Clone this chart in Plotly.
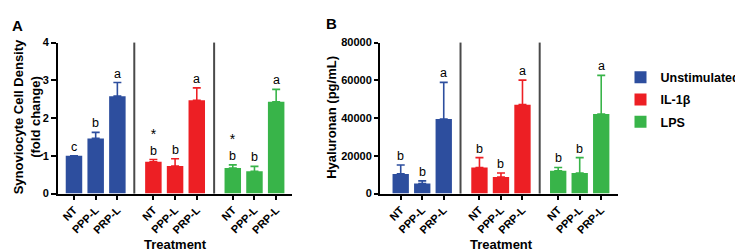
import plotly.graph_objects as go

# ---------------- data ----------------
groups = ["Unstimulated", "IL-1β", "LPS"]
tick_labels = ["NT", "PPP-L", "PRP-L"]
positions = [[0, 1, 2], [3.66, 4.66, 5.66], [7.32, 8.32, 9.32]]
separators = [2.78, 6.46]

density_mean = [[1.00, 1.46, 2.58], [0.84, 0.73, 2.47], [0.675, 0.59, 2.43]]
density_err = [[0.0, 0.16, 0.36], [0.06, 0.19, 0.33], [0.085, 0.13, 0.33]]
density_letters = [["c", "b", "a"], ["b", "b", "a"], ["b", "b", "a"]]
density_star = [[False, False, False], [True, False, False], [True, False, False]]

ha_mean = [[10400, 5350, 39500], [13800, 8700, 47100], [12100, 10900, 42100]]
ha_err = [[4750, 1350, 19400], [5200, 2200, 13000], [1700, 8100, 20500]]
ha_letters = [["b", "b", "a"], ["b", "b", "a"], ["b", "b", "a"]]

colors = ["#2D4E9E", "#ED1F24", "#38B449"]

FONT = "Arial, Liberation Sans, sans-serif"
W, H = 743, 252

def px(xp):
    return xp / W

def py(yp):
    return (H - yp) / H

fig = go.Figure()

annotations = []
shapes = []

for panel, (means, errs, letters, xa, ya) in enumerate([
        (density_mean, density_err, density_letters, "x", "y"),
        (ha_mean, ha_err, ha_letters, "x2", "y2")]):
    for g in range(3):
        fig.add_trace(go.Bar(
            x=positions[g], y=means[g], width=0.76,
            name=groups[g], legendgroup=groups[g],
            showlegend=(panel == 0),
            marker=dict(color=colors[g], line=dict(width=0)),
            error_y=dict(type="data", array=errs[g], arrayminus=[0, 0, 0],
                         symmetric=False, color=colors[g], thickness=1.6, width=4),
            xaxis=xa, yaxis=ya,
        ))
        for i in range(3):
            top = means[g][i] + errs[g][i]
            label = letters[g][i]
            if panel == 0 and density_star[g][i]:
                label = "<span style='font-size:14px'>*</span><br>" + label
            annotations.append(dict(
                x=positions[g][i], y=top, xref=xa, yref=ya, text=label,
                showarrow=False, yanchor="bottom", xanchor="center", yshift=0,
                font=dict(family=FONT, size=12.5, color="black")))
    for s in separators:
        shapes.append(dict(type="line", xref=xa, yref=ya + " domain", x0=s, x1=s,
                           y0=0, y1=1, line=dict(color="#4a4a4a", width=2)))

all_pos = [p for grp in positions for p in grp]
all_ticks = tick_labels * 3

axis_common = dict(showline=True, linecolor="black", linewidth=2, ticks="outside",
                   tickcolor="black", tickwidth=1.5, showgrid=False, zeroline=False)
ytickfont = dict(family=FONT, size=11, color="black", weight="bold")
xtickfont = dict(family=FONT, size=11, color="black", weight="bold")

y_dom = [py(188.5), py(30)]

fig.update_layout(
    width=W, height=H,
    margin=dict(l=0, r=0, t=0, b=0),
    plot_bgcolor="white", paper_bgcolor="white",
    barmode="overlay",
    font=dict(family=FONT, color="black"),
    xaxis=dict(domain=[px(50), px(284)], range=[-0.737, 10.05], tickvals=all_pos,
               ticktext=all_ticks, tickangle=-45, ticklen=4, tickfont=xtickfont,
               anchor="y", **axis_common),
    yaxis=dict(domain=y_dom, range=[0, 4], tickvals=[0, 1, 2, 3, 4], ticklen=5,
               tickfont=ytickfont, anchor="x", **axis_common),
    xaxis2=dict(domain=[px(372), px(610)], range=[-0.963, 10.1], tickvals=all_pos,
                ticktext=all_ticks, tickangle=-45, ticklen=4, tickfont=xtickfont,
                anchor="y2", **axis_common),
    yaxis2=dict(domain=y_dom, range=[0, 80000], tickvals=[0, 20000, 40000, 60000, 80000],
                tickformat="d", ticklen=4, tickfont=ytickfont, anchor="x2", **axis_common),
    legend=dict(x=px(612.5), y=py(51), xanchor="left", yanchor="top",
                font=dict(family=FONT, size=12.5, color="black", weight="bold"),
                traceorder="grouped", tracegroupgap=3, bgcolor="rgba(0,0,0,0)"),
    shapes=shapes,
)

# axis titles and panel labels
annotations += [
    dict(x=px(19), y=py(108.5), xref="paper", yref="paper",
         text="Synoviocyte Cell Density<br>(fold change)", textangle=-90,
         showarrow=False, xanchor="center", yanchor="middle",
         font=dict(family=FONT, size=13, color="black", weight="bold")),
    dict(x=px(324), y=py(109), xref="paper", yref="paper",
         text="Hyaluronan (pg/mL)", textangle=-90,
         showarrow=False, xanchor="center", yanchor="middle",
         font=dict(family=FONT, size=13, color="black", weight="bold")),
    dict(x=px(167), y=py(242), xref="paper", yref="paper", text="Treatment",
         showarrow=False, xanchor="center", yanchor="middle",
         font=dict(family=FONT, size=13, color="black", weight="bold")),
    dict(x=px(493.5), y=py(242), xref="paper", yref="paper", text="Treatment",
         showarrow=False, xanchor="center", yanchor="middle",
         font=dict(family=FONT, size=13, color="black", weight="bold")),
    dict(x=px(9), y=py(12), xref="paper", yref="paper", text="A",
         showarrow=False, xanchor="center", yanchor="middle",
         font=dict(family=FONT, size=15, color="black", weight="bold")),
    dict(x=px(323.5), y=py(10), xref="paper", yref="paper", text="B",
         showarrow=False, xanchor="center", yanchor="middle",
         font=dict(family=FONT, size=15, color="black", weight="bold")),
]
fig.update_layout(annotations=annotations)

fig.write_html("out.html")
